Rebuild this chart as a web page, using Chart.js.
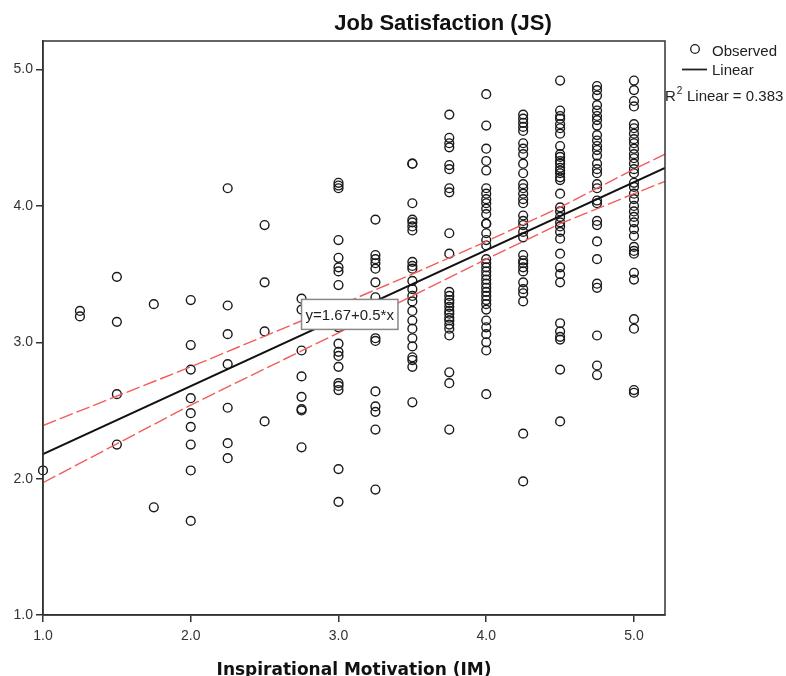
<!DOCTYPE html>
<html>
<head>
<meta charset="utf-8">
<title>Job Satisfaction (JS)</title>
<script src="https://cdn.jsdelivr.net/npm/chart.js@4.4.1/dist/chart.umd.min.js"></script>
<style>
    body { margin: 0; background: #ffffff; }
    #chartBox { width: 786px; height: 676px; }
</style>
</head>
<body>
<div id="chartBox"><canvas id="scatterChart" width="786" height="676"></canvas></div>
<script>
// IM levels (x) and the JS values observed at each level
const imLevels = [1.0, 1.25, 1.5, 1.75, 2.0, 2.25, 2.5, 2.75, 3.0, 3.25, 3.5, 3.75, 4.0, 4.25, 4.5, 4.75, 5.0];

const jsAt100 = [2.06];
const jsAt125 = [3.23, 3.19];
const jsAt150 = [3.48, 3.15, 2.62, 2.25];
const jsAt175 = [3.28, 1.79];
const jsAt200 = [3.31, 2.98, 2.80, 2.59, 2.48, 2.38, 2.25, 2.06, 1.69];
const jsAt225 = [4.13, 3.27, 3.06, 2.84, 2.52, 2.26, 2.15];
const jsAt250 = [3.86, 3.44, 3.08, 2.42];
const jsAt275 = [3.32, 3.24, 2.94, 2.75, 2.60, 2.51, 2.50, 2.23];
const jsAt300 = [4.17, 4.15, 4.13, 3.75, 3.62, 3.55, 3.52, 3.42, 3.11, 2.99, 2.93, 2.90, 2.82, 2.70, 2.68, 2.65, 2.07, 1.83];
const jsAt325 = [3.90, 3.64, 3.61, 3.58, 3.54, 3.44, 3.33, 3.03, 3.01, 2.64, 2.53, 2.49, 2.36, 1.92];
const jsAt350 = [4.31, 4.31, 4.02, 3.90, 3.88, 3.85, 3.82, 3.59, 3.56, 3.54, 3.45, 3.39, 3.34, 3.30, 3.23, 3.16, 3.10, 3.03, 2.97, 2.89, 2.87, 2.82, 2.56];
const jsAt375 = [4.67, 4.50, 4.46, 4.43, 4.30, 4.27, 4.13, 4.10, 3.80, 3.65, 3.37, 3.34, 3.31, 3.29, 3.26, 3.23, 3.21, 3.18, 3.16, 3.13, 3.10, 3.05, 2.78, 2.70, 2.36];
const jsAt400 = [4.82, 4.59, 4.42, 4.33, 4.26, 4.13, 4.09, 4.05, 4.02, 3.98, 3.94, 3.87, 3.87, 3.80, 3.75, 3.71, 3.61, 3.58, 3.55, 3.52, 3.49, 3.46, 3.43, 3.40, 3.37, 3.34, 3.31, 3.28, 3.24, 3.16, 3.11, 3.06, 3.00, 2.94, 2.62];
const jsAt425 = [4.67, 4.64, 4.61, 4.58, 4.55, 4.46, 4.42, 4.38, 4.31, 4.24, 4.16, 4.13, 4.09, 4.05, 4.02, 3.93, 3.89, 3.86, 3.81, 3.77, 3.64, 3.60, 3.58, 3.55, 3.52, 3.44, 3.39, 3.36, 3.30, 2.33, 1.98];
const jsAt450 = [4.92, 4.70, 4.66, 4.64, 4.60, 4.57, 4.53, 4.44, 4.38, 4.36, 4.33, 4.31, 4.28, 4.26, 4.24, 4.21, 4.19, 4.09, 3.99, 3.96, 3.92, 3.88, 3.85, 3.81, 3.76, 3.65, 3.55, 3.50, 3.44, 3.14, 3.08, 3.04, 3.02, 2.80, 2.42];
const jsAt475 = [4.88, 4.85, 4.81, 4.74, 4.70, 4.66, 4.63, 4.59, 4.52, 4.48, 4.44, 4.41, 4.37, 4.31, 4.27, 4.24, 4.16, 4.13, 4.04, 4.02, 3.89, 3.86, 3.74, 3.61, 3.43, 3.40, 3.05, 2.83, 2.76];
const jsAt500 = [4.92, 4.85, 4.77, 4.73, 4.60, 4.57, 4.53, 4.49, 4.46, 4.42, 4.38, 4.35, 4.31, 4.27, 4.24, 4.17, 4.14, 4.09, 4.05, 4.00, 3.96, 3.92, 3.88, 3.83, 3.78, 3.70, 3.67, 3.65, 3.51, 3.46, 3.17, 3.10, 2.65, 2.63];

const jsColumns = [jsAt100, jsAt125, jsAt150, jsAt175, jsAt200, jsAt225, jsAt250, jsAt275, jsAt300,
    jsAt325, jsAt350, jsAt375, jsAt400, jsAt425, jsAt450, jsAt475, jsAt500];

// Linear fit and its 95% mean confidence band
const fitX = [1.0, 5.21];
const fitY = [2.18, 4.28];
const bandX = [1.0, 2.0, 3.0, 3.5, 4.0, 4.5, 5.0, 5.21];
const bandUpper = [2.39, 2.82, 3.27, 3.50, 3.74, 3.99, 4.27, 4.38];
const bandLower = [1.97, 2.54, 3.07, 3.34, 3.61, 3.87, 4.09, 4.18];

const xTicks = [1.0, 2.0, 3.0, 4.0, 5.0];
const yTicks = [1.0, 2.0, 3.0, 4.0, 5.0];
const axisMin = 1.0;
const axisMax = 5.21;

const chartTitle = 'Job Satisfaction (JS)';
const xTitle = 'Inspirational Motivation (IM)';
const equationText = 'y=1.67+0.5*x';
const rSquaredText = '0.383';

const observedPoints = [];
jsColumns.forEach((col, i) => {
    col.forEach(v => observedPoints.push({ x: imLevels[i], y: v }));
});
const pairUp = (xs, ys) => xs.map((x, i) => ({ x: x, y: ys[i] }));

const inkColor = '#222222';
const sansFont = "'Liberation Sans', Arial, sans-serif";

// Title, frame, equation box and legend drawn on the canvas
const decorPlugin = {
    id: 'decor',
    afterDatasetsDraw(chart) {
        const ctx = chart.ctx;
        const area = chart.chartArea;
        const xs = chart.scales.x;
        const ys = chart.scales.y;
        ctx.save();

        // frame around the plot
        ctx.strokeStyle = '#333333';
        ctx.lineWidth = 1.5;
        ctx.strokeRect(area.left, area.top, area.right - area.left, area.bottom - area.top);

        // equation label
        const bx = xs.getPixelForValue(2.75);
        const by = ys.getPixelForValue(3.30);
        ctx.font = '15px ' + sansFont;
        const tw = ctx.measureText(equationText).width;
        ctx.fillStyle = '#ffffff';
        ctx.fillRect(bx, by - 2, tw + 8, 30);
        ctx.strokeStyle = '#888888';
        ctx.lineWidth = 1.5;
        ctx.strokeRect(bx, by - 2, tw + 8, 30);
        ctx.fillStyle = inkColor;
        ctx.textBaseline = 'middle';
        ctx.textAlign = 'left';
        ctx.fillText(equationText, bx + 4, by + 14);

        // title
        ctx.font = 'bold 22px ' + sansFont;
        ctx.textAlign = 'center';
        ctx.textBaseline = 'alphabetic';
        ctx.fillStyle = '#111111';
        ctx.fillText(chartTitle, 443, 30);

        // legend
        ctx.font = '15px ' + sansFont;
        ctx.textAlign = 'left';
        ctx.textBaseline = 'middle';
        ctx.fillStyle = inkColor;
        ctx.strokeStyle = inkColor;
        ctx.lineWidth = 1.3;
        ctx.beginPath();
        ctx.arc(695, 49, 4.3, 0, Math.PI * 2);
        ctx.stroke();
        ctx.fillText('Observed', 712, 52);
        ctx.lineWidth = 1.8;
        ctx.beginPath();
        ctx.moveTo(682, 69.5);
        ctx.lineTo(707, 69.5);
        ctx.stroke();
        ctx.fillText('Linear', 712, 71);
        ctx.fillText('R', 665, 97);
        const rw = ctx.measureText('R').width;
        ctx.font = '10px ' + sansFont;
        ctx.fillText('2', 665 + rw + 1, 91);
        ctx.font = '15px ' + sansFont;
        ctx.fillText(' Linear = ' + rSquaredText, 665 + rw + 7, 97);

        ctx.restore();
    }
};

function initChart() {
    const ctx = document.getElementById('scatterChart').getContext('2d');
    new Chart(ctx, {
        type: 'scatter',
        data: {
            datasets: [
                {
                    label: 'Linear',
                    data: pairUp(fitX, fitY),
                    showLine: true,
                    borderColor: '#111111',
                    borderWidth: 2,
                    pointRadius: 0
                },
                {
                    label: 'Upper',
                    data: pairUp(bandX, bandUpper),
                    showLine: true,
                    borderColor: '#f25c5c',
                    borderWidth: 1.4,
                    borderDash: [14, 4],
                    pointRadius: 0
                },
                {
                    label: 'Lower',
                    data: pairUp(bandX, bandLower),
                    showLine: true,
                    borderColor: '#f25c5c',
                    borderWidth: 1.4,
                    borderDash: [14, 4],
                    pointRadius: 0
                },
                {
                    label: 'Observed',
                    data: observedPoints,
                    pointStyle: 'circle',
                    pointRadius: 4.4,
                    pointBorderWidth: 1.4,
                    pointBorderColor: '#1a1a1a',
                    pointBackgroundColor: 'rgba(0,0,0,0)',
                    clip: false
                }
            ]
        },
        options: {
            responsive: false,
            animation: false,
            layout: { padding: { top: 41, right: 121, left: 0, bottom: 0 } },
            plugins: {
                legend: { display: false },
                tooltip: { enabled: false },
                title: { display: false }
            },
            scales: {
                x: {
                    type: 'linear',
                    min: axisMin,
                    max: axisMax,
                    afterBuildTicks: scale => { scale.ticks = xTicks.map(v => ({ value: v })); },
                    afterFit: scale => { scale.height = 61; },
                    grid: { drawOnChartArea: false, drawTicks: true, tickLength: 7, color: '#333333', lineWidth: 1.5 },
                    border: { display: true, color: '#333333', width: 1.5 },
                    ticks: {
                        padding: 6,
                        color: '#333333',
                        font: { family: sansFont, size: 14 },
                        callback: v => v.toFixed(1)
                    },
                    title: {
                        display: true,
                        text: xTitle,
                        color: '#111111',
                        font: { family: "'DejaVu Sans', Verdana, sans-serif", size: 17, weight: 'bold', lineHeight: 1 },
                        padding: { top: 0, bottom: -3 }
                    }
                },
                y: {
                    type: 'linear',
                    min: axisMin,
                    max: axisMax,
                    afterBuildTicks: scale => { scale.ticks = yTicks.map(v => ({ value: v })); },
                    afterFit: scale => { scale.width = 43; },
                    grid: { drawOnChartArea: false, drawTicks: true, tickLength: 7, color: '#333333', lineWidth: 1.5 },
                    border: { display: true, color: '#333333', width: 1.5 },
                    ticks: {
                        padding: 3,
                        color: '#333333',
                        font: { family: sansFont, size: 14 },
                        callback: v => v.toFixed(1)
                    }
                }
            }
        },
        plugins: [decorPlugin]
    });
}

document.addEventListener('DOMContentLoaded', initChart);
</script>
</body>
</html>
